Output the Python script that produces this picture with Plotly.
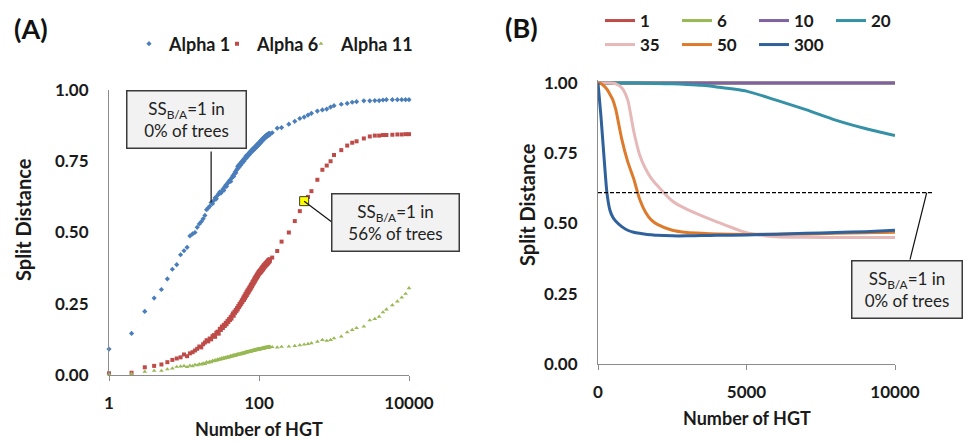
import math
import plotly.graph_objects as go

# ---------------- Panel A: split distance vs number of HGT (log scale) ----------------
hgt_dense = list(range(1, 141))
hgt_sparse = [150, 175, 200, 250, 300, 350, 400, 450, 500, 600, 700, 800, 900, 1000,
              1250, 1500, 1750, 2000, 2500, 3000, 3500, 4000, 4500, 5000,
              6000, 7000, 8000, 9000, 10000]
hgt_a = hgt_dense + hgt_sparse

alpha_1 = [
    0.091, 0.146, 0.223, 0.270, 0.300, 0.337, 0.371, 0.387, 0.422, 0.436,
    0.448, 0.488, 0.495, 0.500, 0.518, 0.530, 0.538, 0.548, 0.560, 0.580,
    0.586, 0.592, 0.605, 0.601, 0.612, 0.622, 0.618, 0.630, 0.636, 0.642,
    0.638, 0.645, 0.652, 0.648, 0.660, 0.666, 0.662, 0.672, 0.676, 0.680,
    0.684, 0.679, 0.690, 0.694, 0.700, 0.697, 0.706, 0.712, 0.709, 0.718,
    0.722, 0.731, 0.735, 0.728, 0.738, 0.742, 0.736, 0.745, 0.749, 0.744,
    0.752, 0.756, 0.750, 0.760, 0.757, 0.763, 0.768, 0.762, 0.770, 0.766,
    0.772, 0.776, 0.771, 0.779, 0.775, 0.783, 0.780, 0.786, 0.782, 0.789,
    0.785, 0.792, 0.788, 0.795, 0.790, 0.797, 0.793, 0.800, 0.796, 0.802,
    0.798, 0.805, 0.801, 0.808, 0.803, 0.810, 0.806, 0.812, 0.808, 0.815,
    0.811, 0.817, 0.813, 0.820, 0.815, 0.822, 0.818, 0.825, 0.820, 0.826,
    0.823, 0.829, 0.825, 0.831, 0.827, 0.833, 0.829, 0.835, 0.831, 0.836,
    0.833, 0.838, 0.834, 0.840, 0.836, 0.841, 0.837, 0.843, 0.839, 0.844,
    0.840, 0.845, 0.841, 0.846, 0.842, 0.847, 0.843, 0.848, 0.844, 0.846,
    0.850, 0.866, 0.868, 0.880, 0.890, 0.900, 0.905, 0.912, 0.918, 0.926,
    0.930, 0.933, 0.940, 0.945, 0.950, 0.953, 0.957, 0.959, 0.962, 0.962,
    0.963, 0.963, 0.965, 0.966, 0.966, 0.966, 0.966, 0.966, 0.966,
]

alpha_6 = [
    0.006, 0.008, 0.027, 0.032, 0.037, 0.045, 0.053, 0.058, 0.062, 0.072,
    0.066, 0.076, 0.080, 0.086, 0.092, 0.100, 0.097, 0.108, 0.114, 0.122,
    0.118, 0.128, 0.125, 0.136, 0.140, 0.134, 0.148, 0.152, 0.145, 0.162,
    0.158, 0.170, 0.165, 0.176, 0.172, 0.183, 0.178, 0.190, 0.186, 0.197,
    0.193, 0.204, 0.198, 0.210, 0.216, 0.208, 0.222, 0.218, 0.228, 0.224,
    0.235, 0.230, 0.242, 0.238, 0.249, 0.244, 0.255, 0.250, 0.262, 0.256,
    0.266, 0.272, 0.263, 0.278, 0.270, 0.284, 0.276, 0.290, 0.281, 0.296,
    0.287, 0.300, 0.292, 0.306, 0.297, 0.310, 0.302, 0.316, 0.307, 0.320,
    0.312, 0.326, 0.318, 0.330, 0.322, 0.335, 0.327, 0.340, 0.331, 0.344,
    0.336, 0.348, 0.340, 0.352, 0.344, 0.356, 0.348, 0.360, 0.352, 0.363,
    0.356, 0.365, 0.358, 0.368, 0.360, 0.371, 0.363, 0.374, 0.366, 0.377,
    0.369, 0.379, 0.371, 0.382, 0.374, 0.385, 0.377, 0.387, 0.380, 0.389,
    0.382, 0.391, 0.384, 0.393, 0.386, 0.395, 0.388, 0.397, 0.390, 0.399,
    0.392, 0.401, 0.394, 0.403, 0.396, 0.404, 0.398, 0.406, 0.400, 0.405,
    0.412, 0.435, 0.468, 0.500, 0.540, 0.575, 0.610, 0.625, 0.645, 0.685,
    0.720, 0.735, 0.750, 0.772, 0.789, 0.805, 0.815, 0.820, 0.830, 0.837,
    0.840, 0.840, 0.842, 0.842, 0.843, 0.844, 0.844, 0.845, 0.845,
]

alpha_11 = [
    0.003, 0.005, 0.012, 0.015, 0.015, 0.020, 0.023, 0.029, 0.030, 0.032,
    0.028, 0.033, 0.031, 0.036, 0.034, 0.038, 0.037, 0.041, 0.039, 0.045,
    0.043, 0.047, 0.045, 0.050, 0.048, 0.052, 0.050, 0.055, 0.053, 0.057,
    0.055, 0.059, 0.056, 0.061, 0.058, 0.062, 0.060, 0.064, 0.061, 0.065,
    0.063, 0.067, 0.064, 0.068, 0.066, 0.070, 0.067, 0.071, 0.068, 0.072,
    0.070, 0.073, 0.071, 0.074, 0.072, 0.075, 0.073, 0.076, 0.074, 0.077,
    0.075, 0.078, 0.076, 0.079, 0.077, 0.080, 0.078, 0.081, 0.079, 0.082,
    0.080, 0.082, 0.081, 0.083, 0.081, 0.084, 0.082, 0.085, 0.083, 0.085,
    0.084, 0.086, 0.084, 0.087, 0.085, 0.088, 0.086, 0.088, 0.087, 0.089,
    0.087, 0.090, 0.088, 0.090, 0.089, 0.091, 0.089, 0.092, 0.090, 0.092,
    0.090, 0.092, 0.090, 0.092, 0.091, 0.093, 0.091, 0.093, 0.092, 0.094,
    0.092, 0.094, 0.093, 0.095, 0.093, 0.095, 0.094, 0.096, 0.094, 0.096,
    0.095, 0.096, 0.095, 0.097, 0.095, 0.097, 0.096, 0.097, 0.096, 0.098,
    0.096, 0.098, 0.097, 0.098, 0.097, 0.099, 0.097, 0.099, 0.098, 0.099,
    0.098, 0.097, 0.099, 0.100, 0.102, 0.105, 0.107, 0.109, 0.112, 0.117,
    0.123, 0.120, 0.123, 0.129, 0.135, 0.150, 0.158, 0.165, 0.170, 0.192,
    0.197, 0.205, 0.220, 0.230, 0.245, 0.258, 0.272, 0.285, 0.305,
]

a_series_names = ["Alpha 1", "Alpha 6", "Alpha 11"]
a_x_ticks = [1, 100, 10000]
a_x_ticktext = ["1", "100", "10000"]

# highlighted point on the Alpha 6 curve and the point the first call-out refers to
marked_hgt = 400
marked_sd = alpha_6[hgt_a.index(marked_hgt)]
callout_hgt = 23
callout_sd = alpha_1[hgt_a.index(callout_hgt)]

# ---------------- Panel B: split distance vs number of HGT (linear) ----------------
hgt_b = [0, 100, 200, 300, 400, 500, 600, 800, 1000, 1200, 1400, 1600, 1800, 2000,
         2500, 3000, 3500, 4000, 5000, 6000, 7000, 8000, 9000, 10000]
sd_1 = [1.0, 1.0, 1.0, 1.0, 1.0, 1.0, 1.0, 1.0, 1.0, 1.0, 1.0, 1.0,
        1.0, 1.0, 1.0, 1.0, 1.0, 1.0, 1.0, 1.0, 1.0, 1.0, 1.0, 1.0]
sd_6 = [1.0, 1.0, 1.0, 1.0, 1.0, 1.0, 1.0, 1.0, 1.0, 1.0, 1.0, 1.0,
        1.0, 1.0, 1.0, 1.0, 1.0, 1.0, 1.0, 1.0, 1.0, 1.0, 1.0, 1.0]
sd_10 = [1.0, 1.0, 1.0, 1.0, 1.0, 1.0, 1.0, 1.0, 1.0, 1.0, 1.0, 1.0,
         1.0, 1.0, 1.0, 1.0, 1.0, 1.0, 1.0, 1.0, 1.0, 1.0, 1.0, 1.0]
sd_20 = [1.0, 1.0, 1.0, 1.0, 1.0, 1.0, 1.0, 1.0, 1.0, 1.0, 1.0, 0.999,
         0.999, 0.998, 0.997, 0.995, 0.992, 0.986, 0.971, 0.939, 0.905, 0.868, 0.838, 0.813]
sd_35 = [1.0, 1.0, 1.0, 1.0, 1.0, 0.999, 0.997, 0.983, 0.940, 0.830, 0.745, 0.695,
         0.660, 0.635, 0.580, 0.550, 0.527, 0.506, 0.467, 0.453, 0.451, 0.450, 0.450, 0.450]
sd_50 = [1.0, 0.998, 0.990, 0.978, 0.960, 0.940, 0.905, 0.800, 0.720, 0.660, 0.587, 0.540,
         0.512, 0.497, 0.476, 0.468, 0.465, 0.463, 0.461, 0.462, 0.463, 0.465, 0.467, 0.469]
sd_300 = [1.0, 0.880, 0.740, 0.610, 0.548, 0.522, 0.508, 0.489, 0.476, 0.469, 0.465, 0.462,
          0.460, 0.458, 0.456, 0.456, 0.457, 0.458, 0.459, 0.462, 0.465, 0.468, 0.471, 0.476]
b_series_names = ["1", "6", "10", "20", "35", "50", "300"]
b_series = [sd_1, sd_6, sd_10, sd_20, sd_35, sd_50, sd_300]
b_colors = ["#BE4B48", "#98B954", "#7E62A1", "#3591A6", "#E6B9B8", "#DD7A2C", "#2F619C"]
b_x_ticks = [0, 5000, 10000]
b_x_ticktext = ["0", "5000", "10000"]

threshold_sd = marked_sd  # dashed reference level in panel B
sd_ticks = [0, 0.25, 0.5, 0.75, 1.0]
sd_ticktext = ["0.00", "0.25", "0.50", "0.75", "1.00"]

# ---------------- figure ----------------
W, H = 963, 442
FONT = "Lato"


def fx(p):
    return p / W


def fy(p):
    return 1 - p / H


fig = go.Figure()

marker_styles = [
    dict(symbol="diamond", size=4, color="#4A7EBB"),
    dict(symbol="square", size=4, color="#BE4B48"),
    dict(symbol="triangle-up", size=4.2, color="#98B954"),
]
a_legends = ["legend", "legend4", "legend5"]
for name, vals, mk, lg in zip(a_series_names, [alpha_1, alpha_6, alpha_11],
                              marker_styles, a_legends):
    fig.add_trace(go.Scatter(
        x=hgt_a, y=vals, mode="markers", name=name, marker=mk,
        cliponaxis=False, xaxis="x", yaxis="y", legend=lg,
    ))

fig.add_trace(go.Scatter(
    x=[marked_hgt], y=[marked_sd], mode="markers", showlegend=False,
    marker=dict(symbol="square", size=9, color="#FFFF00",
                line=dict(color="#3A3A3A", width=1)),
    cliponaxis=False, xaxis="x", yaxis="y",
))

for i, (name, vals, col) in enumerate(zip(b_series_names, b_series, b_colors)):
    fig.add_trace(go.Scatter(
        x=hgt_b, y=vals, mode="lines", name=name,
        line=dict(color=col, width=3, shape="spline", smoothing=0.6),
        xaxis="x2", yaxis="y2", legend="legend2" if i < 4 else "legend3",
    ))

tick_font = dict(family=FONT, size=17, color="#1A1A1A", weight="bold")
axis_common = dict(showgrid=False, zeroline=False, showline=True, linecolor="#8C8C8C",
                   linewidth=1, tickfont=tick_font, automargin=False)

a_x_dom = [fx(109), fx(409)]
a_y_dom = [fy(375), fy(90)]
b_x_dom = [fx(598), fx(895)]
b_top = 1.012
b_y_dom = [fy(364), fy(364 - 281 * b_top)]

a_legend_font = dict(family=FONT, size=18, weight="bold", color="#1A1A1A")
b_legend_font = dict(family=FONT, size=17, weight="bold", color="#1A1A1A")


def legend_box(x_px, y_px, font, **kw):
    return dict(orientation="h", x=fx(x_px), y=fy(y_px), xanchor="left", yanchor="middle",
                font=font, bgcolor="rgba(0,0,0,0)", borderwidth=0, **kw)


fig.update_layout(
    width=W, height=H, margin=dict(l=0, r=0, t=0, b=0, autoexpand=False),
    template="none",
    paper_bgcolor="white", plot_bgcolor="white",
    font=dict(family=FONT, color="#1A1A1A"),
    xaxis=dict(type="log", range=[0, 4], domain=a_x_dom, anchor="y",
               tickvals=a_x_ticks, ticktext=a_x_ticktext, ticks="outside", ticklen=5,
               tickcolor="#8C8C8C", ticklabelstandoff=8, **axis_common),
    yaxis=dict(range=[0, 1], domain=a_y_dom, anchor="x", tickvals=sd_ticks,
               ticktext=sd_ticktext, ticks="", ticklabelstandoff=16, **axis_common),
    xaxis2=dict(range=[0, 10000], domain=b_x_dom, anchor="y2",
                tickvals=b_x_ticks, ticktext=b_x_ticktext, ticks="outside", ticklen=5,
                tickcolor="#8C8C8C", ticklabelstandoff=8, **axis_common),
    yaxis2=dict(range=[0, b_top], domain=b_y_dom, anchor="x2", tickvals=sd_ticks,
                ticktext=sd_ticktext, ticks="", ticklabelstandoff=16, **axis_common),
    legend=legend_box(129, 44, a_legend_font),
    legend4=legend_box(217, 44, a_legend_font),
    legend5=legend_box(301, 44, a_legend_font),
    legend2=legend_box(600, 21, b_legend_font, entrywidth=32),
    legend3=legend_box(600, 45, b_legend_font, entrywidth=32),
)

# dashed reference level in panel B, running past the end of the axis
dash_end = fx(933)
fig.add_shape(type="line", xref="paper", yref="y2", x0=b_x_dom[0], x1=dash_end,
              y0=threshold_sd, y1=threshold_sd,
              line=dict(color="black", width=1.3, dash="4px,2px"))

# connector lines from the call-out boxes to the points they describe
conn_line = dict(color="#111111", width=1.2)
fig.add_shape(type="line", xref="x", yref="y", xsizemode="pixel", ysizemode="pixel",
              xanchor=callout_hgt, yanchor=callout_sd,
              x0=0, y0=0, x1=-24, y1=51, line=conn_line)
fig.add_shape(type="line", xref="x", yref="y", xsizemode="pixel", ysizemode="pixel",
              xanchor=marked_hgt, yanchor=marked_sd,
              x0=0, y0=0, x1=28, y1=-21, line=conn_line)
fig.add_shape(type="line", xref="paper", yref="y2", ysizemode="pixel",
              yanchor=threshold_sd, x0=fx(926.7), x1=fx(910), y0=0, y1=-67,
              line=conn_line)

ann = []
centered = dict(xref="paper", yref="paper", showarrow=False, xanchor="center",
                yanchor="middle")
# panel letters
ann.append(dict(text="<b>(A)</b>", x=fx(31), y=fy(28),
                font=dict(size=27, family=FONT, color="#111"), **centered))
ann.append(dict(text="<b>(B)</b>", x=fx(521), y=fy(27),
                font=dict(size=27, family=FONT, color="#111"), **centered))
# axis titles
x_title_font = dict(size=18, family=FONT, color="#1A1A1A", weight="bold")
y_title_font = dict(size=20, family=FONT, color="#1A1A1A", weight="bold")
ann.append(dict(text="Split Distance", x=fx(23), y=fy(220), textangle=-90,
                font=y_title_font, **centered))
ann.append(dict(text="Split Distance", x=fx(527), y=fy(205), textangle=-90,
                font=y_title_font, **centered))
ann.append(dict(text="Number of HGT", x=fx(259), y=fy(429), font=x_title_font, **centered))
ann.append(dict(text="Number of HGT", x=fx(747), y=fy(418), font=x_title_font, **centered))

# call-out boxes
box_font = dict(size=17, family=FONT, color="#222222")
box_style = dict(bgcolor="#F2F2F2", bordercolor="#3A3A3A", borderwidth=1.5, borderpad=0,
                 font=box_font, align="center", height=56, **centered)
ann.append(dict(text="SS<sub>B/A</sub>=1 in<br>0% of trees", x=fx(186.5), y=fy(119.5),
                width=118, **box_style))
ann.append(dict(text="SS<sub>B/A</sub>=1 in<br>56% of trees", x=fx(395.5), y=fy(222.5),
                width=126, **box_style))
ann.append(dict(text="SS<sub>B/A</sub>=1 in<br>0% of trees", x=fx(907), y=fy(289.5),
                width=109, **box_style))

fig.update_layout(annotations=ann)
fig.write_html("out.html")
